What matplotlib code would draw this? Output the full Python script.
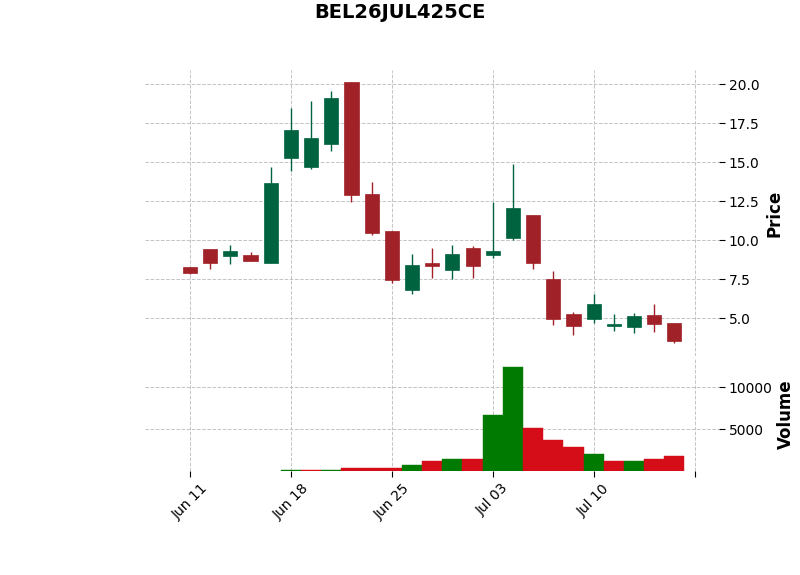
import matplotlib
matplotlib.use("Agg")
import matplotlib.pyplot as plt
import numpy as np
from datetime import datetime

title = "BEL26JUL425CE"
dates = ["2024-06-11", "2024-06-12", "2024-06-13", "2024-06-14", "2024-06-17",
         "2024-06-18", "2024-06-19", "2024-06-20", "2024-06-21", "2024-06-24",
         "2024-06-25", "2024-06-26", "2024-06-27", "2024-06-28", "2024-07-01",
         "2024-07-03", "2024-07-04", "2024-07-05", "2024-07-08", "2024-07-09",
         "2024-07-10", "2024-07-11", "2024-07-12", "2024-07-15", "2024-07-16"]
opens = [8.31, 9.47, 9.02, 9.08, 8.57, 15.28, 14.70, 16.18, 20.17, 12.97,
         10.60, 6.82, 8.55, 8.10, 9.51, 9.06, 10.15, 11.62, 7.52, 5.28,
         4.98, 4.47, 4.44, 5.21, 4.70]
highs = [8.31, 9.47, 9.68, 9.23, 14.68, 18.50, 18.91, 19.55, 20.17, 13.76,
         10.60, 9.10, 9.53, 9.68, 9.66, 12.48, 14.91, 11.62, 8.01, 5.38,
         6.54, 5.26, 5.32, 5.94, 4.70]
lows = [7.85, 8.14, 8.46, 8.70, 8.57, 14.44, 14.55, 15.73, 12.48, 10.32,
        7.24, 6.54, 7.56, 7.50, 7.56, 8.85, 10.00, 8.14, 4.55, 3.91,
        4.68, 4.19, 4.04, 4.10, 3.40]
closes = [7.93, 8.57, 9.32, 8.70, 13.68, 17.07, 16.56, 19.12, 12.91, 10.47,
          7.46, 8.42, 8.38, 9.15, 8.35, 9.32, 12.07, 8.57, 4.98, 4.51,
          5.92, 4.64, 5.15, 4.66, 3.55]
volumes = [0, 0, 0, 0, 0, 150, 100, 100, 400, 400,
           400, 750, 1230, 1470, 1470, 6700, 12420, 5160, 3730, 2900,
           2060, 1230, 1230, 1470, 1825]
price_ticks = [5.0, 7.5, 10.0, 12.5, 15.0, 17.5, 20.0]
volume_ticks = [5000, 10000]

up_c, down_c = "#006340", "#a02128"
vup_c, vdown_c = "#007a00", "#d50d18"
grid_kw = dict(color="#c4c4c4", linestyle="--", linewidth=0.7)

o = np.array(opens); c = np.array(closes); h = np.array(highs); l = np.array(lows)
v = np.array(volumes)
x = np.arange(len(dates))

fig = plt.figure(figsize=(8, 5.75), dpi=100)
axp = fig.add_axes([0.181, 0.381, 0.718, 0.497])
axv = fig.add_axes([0.181, 0.181, 0.718, 0.196], sharex=axp)

up = c >= o
colors = np.where(up, up_c, down_c)
axp.vlines(x, l, h, colors=colors, linewidth=1.0, zorder=2)
body_h = np.maximum(np.abs(c - o), 0.12)
axp.bar(x, body_h, bottom=np.minimum(o, c), width=0.7, color=colors,
        edgecolor=colors, linewidth=0.5, zorder=3)

prev = np.concatenate([[c[0]], c[:-1]])
vcolors = np.where(c >= prev, vup_c, vdown_c)
vcolors[0] = vdown_c if c[0] < o[0] else vup_c
nz = v > 0
axv.bar(x[nz], v[nz], width=1.0, color=vcolors[nz], edgecolor=vcolors[nz],
        linewidth=0.3, zorder=3)

for ax in (axp, axv):
    for s in ax.spines.values():
        s.set_visible(False)
    ax.grid(True, **grid_kw)
    ax.set_axisbelow(True)
    ax.yaxis.tick_right()
    ax.yaxis.set_label_position("right")
    ax.tick_params(axis="y", length=4, width=0.8, labelsize=10, pad=3)

axp.set_ylim(2.58, 20.92)
axp.set_yticks(price_ticks)
axp.set_yticklabels([f"{t:.1f}" for t in price_ticks])
axp.set_ylabel("Price", fontsize=12, fontweight="bold", labelpad=4)
axp.tick_params(axis="x", which="both", bottom=False, labelbottom=False, length=0)

axv.set_ylim(0, 13490)
axv.set_yticks(volume_ticks)
axv.set_yticklabels([str(t) for t in volume_ticks])
axv.set_ylabel("Volume", fontsize=12, fontweight="bold", labelpad=3)

xt = list(range(0, len(dates) + 1, 5))
labels = [datetime.strptime(dates[i], "%Y-%m-%d").strftime("%b %d") if i < len(dates) else ""
          for i in xt]
axv.set_xticks(xt)
axv.set_xticklabels(labels, rotation=45, fontsize=10)
axv.tick_params(axis="x", length=4, width=0.8)
axp.set_xlim(-2.24, 26.22)

fig.suptitle(title, fontsize=14, fontweight="bold", y=0.995)
fig.savefig("out.png", dpi=100)
